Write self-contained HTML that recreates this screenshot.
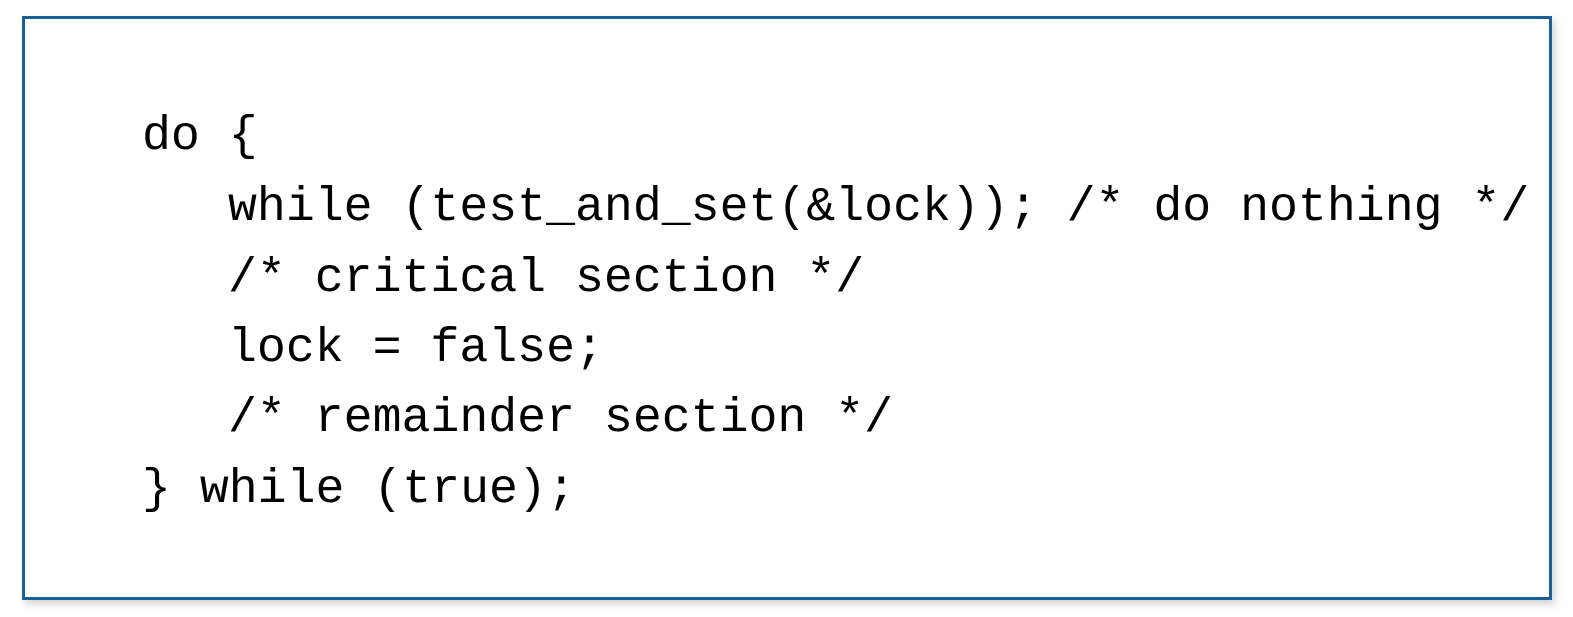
<!DOCTYPE html>
<html><head><meta charset="utf-8"><style>
html,body{margin:0;padding:0;background:#fff;width:1573px;height:617px;overflow:hidden}
.box{position:absolute;left:22px;top:16px;width:1524px;height:578px;border:3px solid #1a5f96;box-shadow:3px 4px 8px rgba(0,0,0,0.18);background:#fff}
svg{position:absolute;left:0;top:0}
text{font-family:"Liberation Mono",monospace;font-size:48.2px;fill:#000}
</style></head><body>
<div class="box"></div>
<svg width="1573" height="617">
<text x="142" y="149" xml:space="preserve">do {</text>
<text x="228" y="220" xml:space="preserve">while (test_and_set(&amp;lock)); /* do nothing */</text>
<text x="228" y="291" xml:space="preserve">/* critical section */</text>
<text x="228" y="361" xml:space="preserve">lock = false;</text>
<text x="228" y="431" xml:space="preserve">/* remainder section */</text>
<text x="142" y="502" xml:space="preserve">} while (true);</text>
</svg>
</body></html>
